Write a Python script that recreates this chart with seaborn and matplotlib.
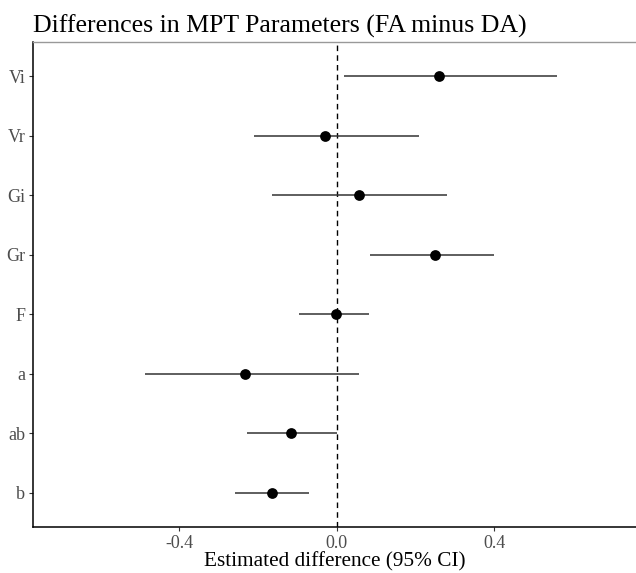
import matplotlib
matplotlib.use("Agg")
import matplotlib.pyplot as plt
import seaborn as sns
import pandas as pd

params = ["Vi", "Vr", "Gi", "Gr", "F", "a", "ab", "b"]
estimate = [0.259, -0.031, 0.055, 0.250, -0.002, -0.233, -0.117, -0.166]
lower = [0.018, -0.210, -0.165, 0.084, -0.095, -0.488, -0.229, -0.258]
upper = [0.559, 0.208, 0.279, 0.399, 0.082, 0.055, 0.000, -0.071]
xticks = [-0.4, 0.0, 0.4]
xtick_labels = ["-0.4", "0.0", "0.4"]

df = pd.DataFrame({"param": params, "est": estimate, "lo": lower, "hi": upper})

sns.set_theme(style="white")
plt.rcParams["font.family"] = ["Liberation Serif", "DejaVu Serif"]

fig = plt.figure(figsize=(6.36, 5.73), dpi=100)
ax = fig.add_axes([33 / 636, (573 - 527) / 573, 1 - 33 / 636, (527 - 42) / 573])

ax.hlines(y=df["param"], xmin=df["lo"], xmax=df["hi"], color="#333333", linewidth=1.1, zorder=2)
sns.scatterplot(data=df, x="est", y="param", ax=ax, color="black", s=60,
                edgecolor="black", linewidth=0, zorder=3)
ax.axvline(0, color="black", linestyle=(0, (4, 3)), linewidth=1.0, zorder=1)

ax.set_xlim(-0.772, 0.76)
ax.set_ylim(7.58, -0.58)
ax.set_xticks(xticks)
ax.set_xticklabels(xtick_labels)

ax.tick_params(axis="both", which="both", length=3, width=0.8, color="#333333",
               labelcolor="#4d4d4d", labelsize=13, pad=2.5, bottom=True, left=True)
for side in ["left", "bottom"]:
    ax.spines[side].set_color("black")
    ax.spines[side].set_linewidth(1.1)
ax.spines["right"].set_visible(False)
ax.spines["top"].set_color("#999999")
ax.spines["top"].set_linewidth(1.0)

ax.set_ylabel("")
ax.set_xlabel("Estimated difference (95% CI)", fontsize=15.3, color="black", labelpad=0)
ax.set_title("Differences in MPT Parameters (FA minus DA)", loc="left", fontsize=18.6,
             color="black", pad=7, x=0.0)

fig.savefig("out.png", dpi=100)
